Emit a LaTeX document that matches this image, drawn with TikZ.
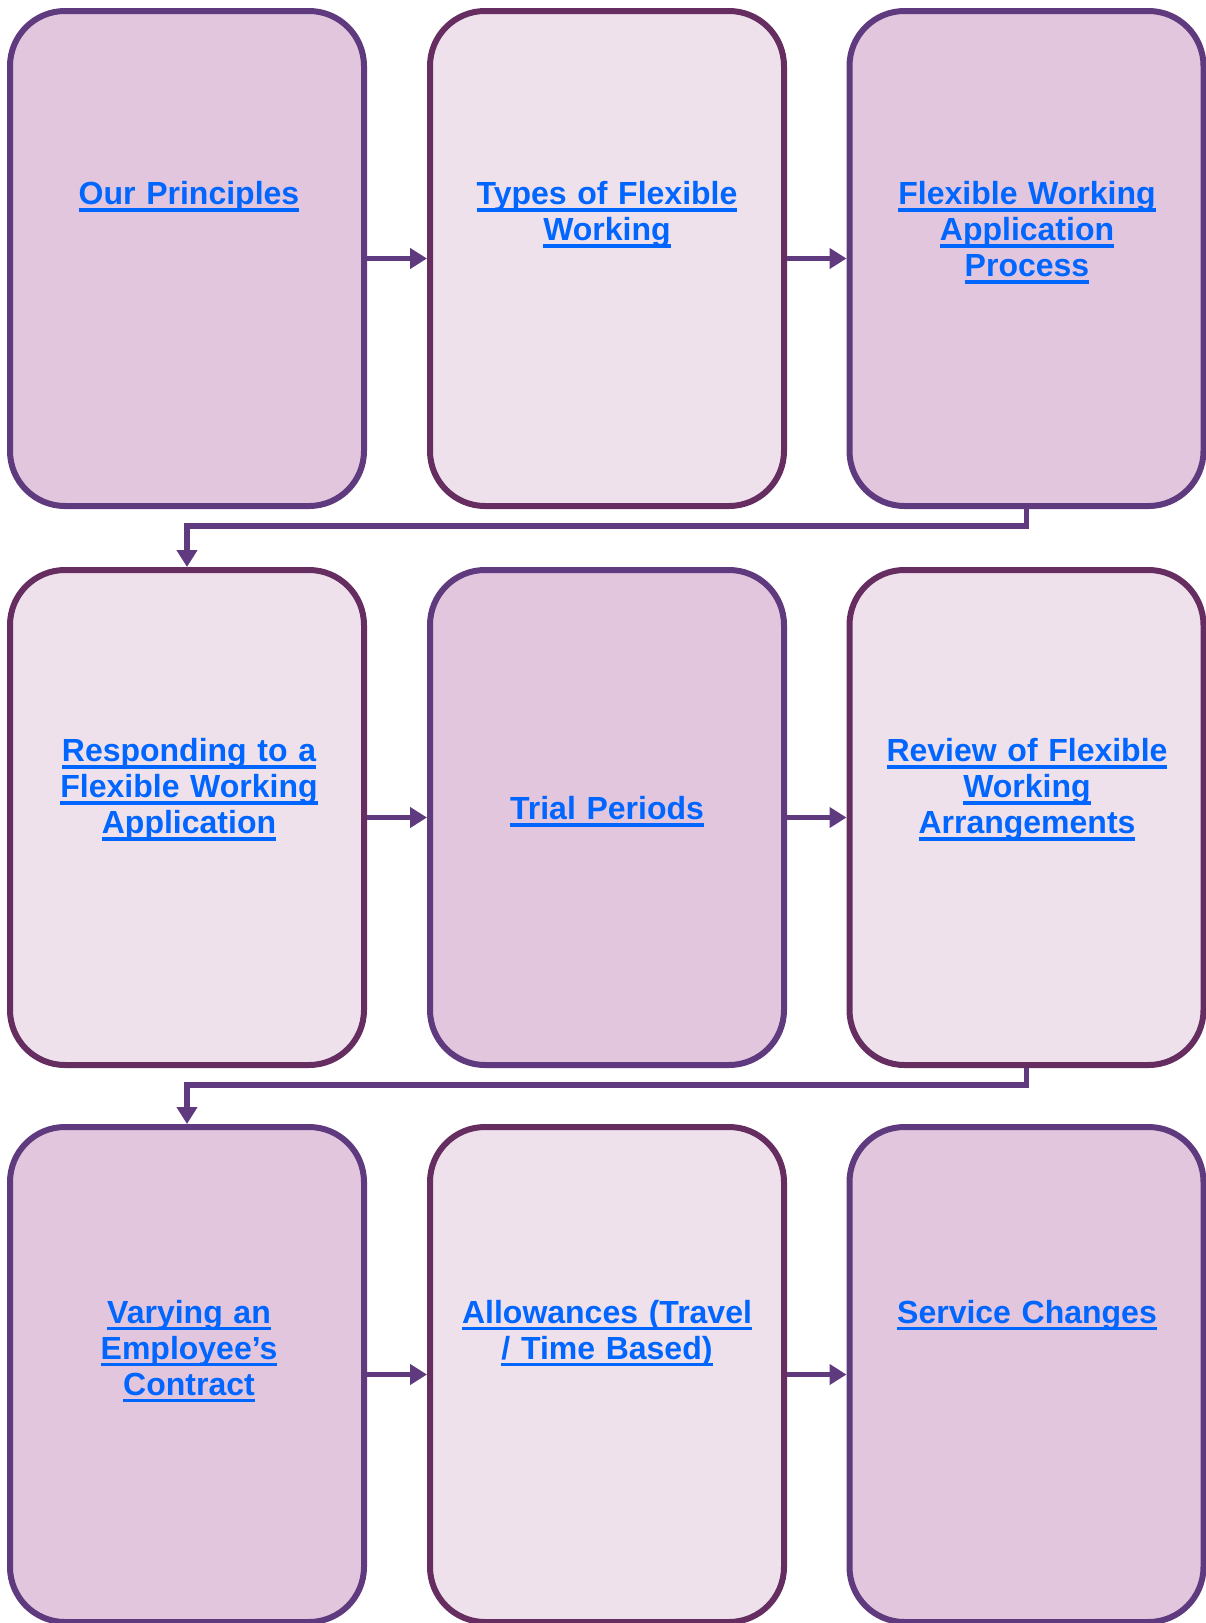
\documentclass[tikz,border=0pt]{standalone}
\usepackage{fontspec}
\setmainfont{Liberation Sans}
\usetikzlibrary{arrows.meta}
\definecolor{darkfill}{HTML}{E1C6DD}
\definecolor{lightfill}{HTML}{EFE1EC}
\definecolor{darkline}{HTML}{5F3A7E}
\definecolor{lightline}{HTML}{652D60}
\definecolor{linkblue}{HTML}{0066FF}
\newcommand\ulx[1]{\leavevmode\setbox0\hbox{#1}\rlap{\rule[-7pt]{\wd0}{3.5pt}}\box0}
\tikzset{
  boxbase/.style={rectangle, rounded corners=55pt, line width=6pt, minimum width=354pt, minimum height=495pt, inner sep=0pt},
  darkbox/.style={boxbase, draw=darkline, fill=darkfill},
  lightbox/.style={boxbase, draw=lightline, fill=lightfill},
  lbl/.style={anchor=base, text width=330pt, align=center, inner sep=0pt, text=linkblue,
    font=\fontsize{32}{36}\selectfont\bfseries},
  conn/.style={draw=darkline, line width=5.5pt, -{Triangle[length=17pt,width=20pt]}},
}
\begin{document}
\begin{tikzpicture}[x=1pt,y=-1pt]
\useasboundingbox (0,0) rectangle (1206,1623);
% boxes
\node[darkbox]  (b1) at (187,258.5) {};
\node[lightbox] (b2) at (607,258.5) {};
\node[darkbox]  (b3) at (1026.5,258.5) {};
\node[lightbox] (b4) at (187,817.5) {};
\node[darkbox]  (b5) at (607,817.5) {};
\node[lightbox] (b6) at (1026.5,817.5) {};
\node[darkbox]  (b7) at (187,1374.5) {};
\node[lightbox] (b8) at (607,1374.5) {};
\node[darkbox]  (b9) at (1026.5,1374.5) {};
% labels
\node[lbl] (t1) at (189,204.5) {\ulx{Our Principles}};
\node[lbl] (t2) at (607,204.5) {\ulx{Types of Flexible}\\\ulx{Working}};
\node[lbl] (t3) at (1027,204.5) {\ulx{Flexible Working}\\\ulx{Application}\\\ulx{Process}};
\node[lbl] (t4) at (189,761.5) {\ulx{Responding to a}\\\ulx{Flexible Working}\\\ulx{Application}};
\node[lbl] (t5) at (607,819.5) {\ulx{Trial Periods}};
\node[lbl] (t6) at (1027,761.5) {\ulx{Review of Flexible}\\\ulx{Working}\\\ulx{Arrangements}};
\node[lbl] (t7) at (189,1323) {\ulx{Varying an}\\\ulx{Employee’s}\\\ulx{Contract}};
\node[lbl] (t8) at (607,1323) {\ulx{Allowances (Travel}\\\ulx{/ Time Based)}};
\node[lbl] (t9) at (1027,1323) {\ulx{Service Changes}};
% connectors
\draw[conn] (b1.east) -- (b2.west);
\draw[conn] (b2.east) -- (b3.west);
\draw[conn] (b3.south) -- ++(0,17) -| (b4.north);
\draw[conn] (b4.east) -- (b5.west);
\draw[conn] (b5.east) -- (b6.west);
\draw[conn] (b6.south) -- ++(0,17) -| (b7.north);
\draw[conn] (b7.east) -- (b8.west);
\draw[conn] (b8.east) -- (b9.west);
\end{tikzpicture}
\end{document}
